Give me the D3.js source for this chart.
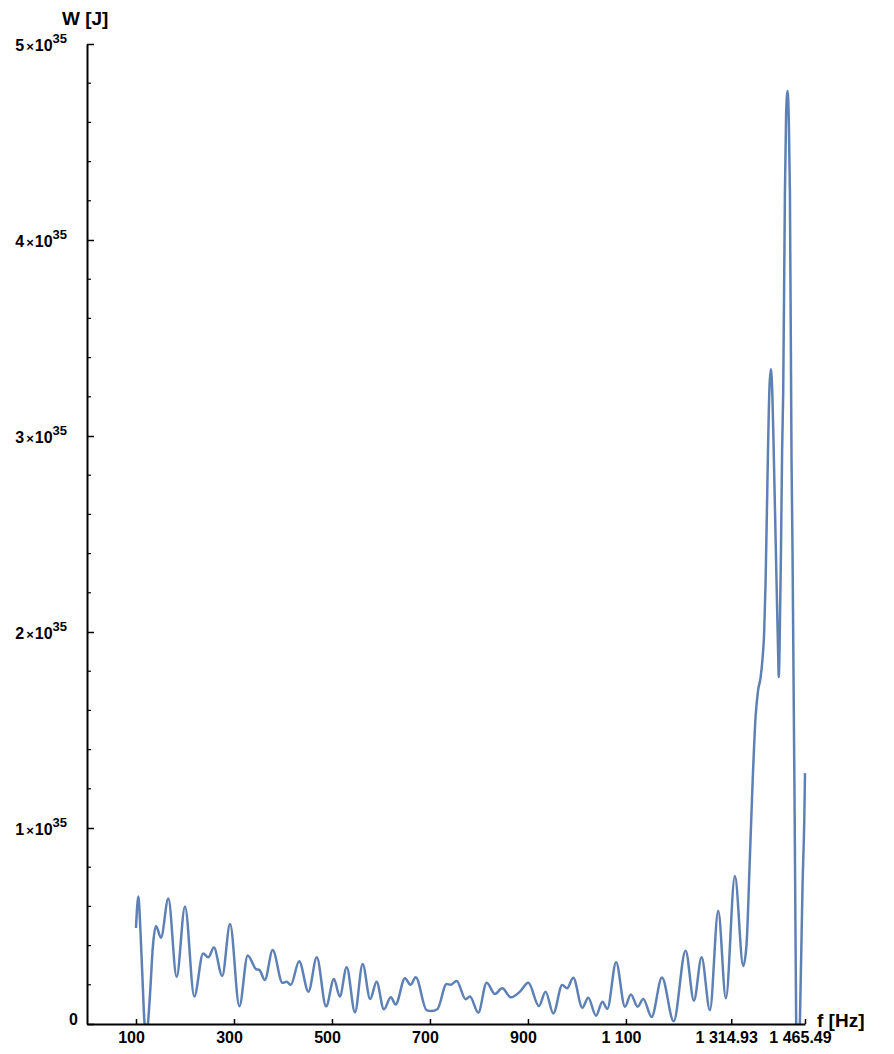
<!DOCTYPE html>
<html>
<head>
<meta charset="utf-8">
<script src="https://cdn.jsdelivr.net/npm/d3@7"></script>
<style>
  html, body { margin: 0; padding: 0; background: #fff; }
  svg { display: block; }
  text { font-family: "Liberation Sans", Arial, sans-serif; font-weight: bold; fill: #000; }
</style>
</head>
<body>
<svg id="chart" width="894" height="1054"></svg>
<script>
// Frequency (Hz)
const freq = [
  100, 104.8, 109, 113.6, 117, 121.5, 125, 130, 134, 140.8, 151, 166, 183, 200, 219, 237, 247.6, 259, 276, 292,
  311, 328, 345, 352, 363, 379, 399, 407.5, 416, 433, 452, 469, 488, 504, 516, 530, 547, 562.6, 578, 591,
  606, 620, 630, 649, 660.5, 671, 693, 703, 715, 734, 742, 754.4, 773, 781.6, 798.6, 815.7, 832.7, 847.6, 865, 883.7,
  900.7, 922.4, 936, 951.7, 970, 980, 992.5, 1011, 1023, 1039, 1052, 1062, 1080, 1098, 1110, 1124, 1135.4, 1152.4, 1173.5, 1197.5,
  1221.8, 1238.8, 1254.4, 1271.4, 1288.4, 1304, 1322.4, 1339.4, 1346, 1353, 1358.5, 1364.7, 1369.6, 1375, 1379, 1382, 1385, 1390, 1393, 1395.9,
  1399, 1402, 1406, 1410.5, 1412, 1413.5, 1416.5, 1418.8, 1421, 1424.5, 1427, 1430, 1432.5, 1434.7, 1438, 1440, 1444.9, 1447.5, 1451, 1455,
  1460.6, 1464, 1465.49
];
// Energy W in units of 1e35 J
const energy = [
  0.49, 0.65, 0.48, 0.21, 0.02, -0.06, 0.02, 0.21, 0.38, 0.50, 0.44, 0.64, 0.24, 0.60, 0.14, 0.36, 0.34, 0.39, 0.245, 0.51,
  0.09, 0.35, 0.28, 0.275, 0.225, 0.377, 0.21, 0.215, 0.20, 0.32, 0.165, 0.34, 0.09, 0.23, 0.14, 0.29, 0.06, 0.306, 0.127, 0.216,
  0.075, 0.136, 0.10, 0.233, 0.20, 0.238, 0.071, 0.066, 0.075, 0.204, 0.20, 0.219, 0.126, 0.14, 0.058, 0.211, 0.153, 0.182, 0.136, 0.165,
  0.211, 0.092, 0.165, 0.054, 0.199, 0.182, 0.236, 0.083, 0.134, 0.042, 0.114, 0.077, 0.315, 0.088, 0.151, 0.088, 0.128, 0.036, 0.237, 0.014,
  0.374, 0.119, 0.34, 0.071, 0.578, 0.131, 0.755, 0.296, 0.40, 0.85, 1.23, 1.57, 1.70, 1.77, 1.87, 1.99, 2.25, 2.93, 3.25, 3.34,
  3.2, 2.88, 2.42, 1.91, 1.77, 1.91, 2.42, 2.93, 3.22, 4.24, 4.65, 4.76, 4.6, 4.24, 2.88, 2.42, 0.89, 0.0, -0.35, 0.0,
  0.72, 1.04, 1.28
];
const xTickValues = [100, 300, 500, 700, 900, 1100, 1314.93, 1465.49];
const xTickLabels = ["100", "300", "500", "700", "900", "1 100", "1 314.93", "1 465.49"];
const yTickValues = [0, 1, 2, 3, 4, 5];
const yTickMantissa = ["0", "1", "2", "3", "4", "5"];
const yExponent = "35";
const yMinorStep = 0.2;
const xAxisTitle = "f [Hz]";
const yAxisTitle = "W [J]";

const svg = d3.select("#chart");
const x = d3.scaleLinear().domain([0, 1465.49]).range([87, 805]);
const y = d3.scaleLinear().domain([0, 5]).range([1024, 44]);

// clip
svg.append("defs").append("clipPath").attr("id", "plotclip")
  .append("rect").attr("x", 87).attr("y", 0).attr("width", 894 - 87).attr("height", 1024);

// curve
const data = freq.map((f, i) => ({ f, v: energy[i] }));
const line = d3.line().x(d => x(d.f)).y(d => y(d.v)).curve(d3.curveMonotoneX);
svg.append("path").datum(data)
  .attr("clip-path", "url(#plotclip)")
  .attr("d", line)
  .attr("fill", "none")
  .attr("stroke", "#5e81b5")
  .attr("stroke-width", 2.5)
  .attr("stroke-linejoin", "round");

// x axis
const xAxis = d3.axisBottom(x).tickValues(xTickValues)
  .tickFormat((d, i) => xTickLabels[i]).tickSizeInner(-5).tickSizeOuter(0).tickPadding(8);
const gx = svg.append("g").attr("transform", "translate(0,1024)").call(xAxis);
gx.select(".domain").attr("stroke", "#000").attr("stroke-width", 2);
gx.selectAll(".tick line").attr("stroke", "#000").attr("stroke-width", 1.5);
gx.selectAll(".tick text").attr("font-size", 16).attr("font-weight", "bold")
  .attr("font-family", "Liberation Sans, Arial, sans-serif").attr("fill", "#000").attr("dx", -5);

// y axis
const yAxis = d3.axisLeft(y).tickValues(yTickValues).tickFormat("").tickSizeInner(-7).tickSizeOuter(0);
const gy = svg.append("g").attr("transform", "translate(87,0)").call(yAxis);
gy.select(".domain").attr("stroke", "#000").attr("stroke-width", 2);
gy.selectAll(".tick line").attr("stroke", "#000").attr("stroke-width", 1.5);

// minor ticks
const minor = d3.range(0, 5 + 1e-9, yMinorStep).filter(v => Math.abs(v - Math.round(v)) > 1e-6);
gy.selectAll(".minor").data(minor).join("line").attr("class", "minor")
  .attr("x1", 0).attr("x2", 4).attr("y1", d => y(d)).attr("y2", d => y(d))
  .attr("stroke", "#000").attr("stroke-width", 1.2);

// y tick labels
const yl = svg.append("g");
yTickValues.forEach((v, i) => {
  if (v === 0) {
    yl.append("text").attr("x", 78).attr("y", y(v) + 1).attr("text-anchor", "end")
      .attr("font-size", 16).text(yTickMantissa[i]);
  } else {
    const t = yl.append("text").attr("x", 67).attr("y", y(v) + 7).attr("text-anchor", "end").attr("font-size", 16);
    t.append("tspan").text(yTickMantissa[i]);
    t.append("tspan").attr("font-size", 13).attr("dx", 2).text("\u00d7");
    t.append("tspan").attr("dx", 1).text("10");
    t.append("tspan").attr("font-size", 13).attr("dy", -8).text(yExponent);
  }
});

// axis titles
svg.append("text").attr("x", 62).attr("y", 25).attr("font-size", 19).text(yAxisTitle);
svg.append("text").attr("x", 817).attr("y", 1027).attr("font-size", 19).text(xAxisTitle);
</script>
</body>
</html>
